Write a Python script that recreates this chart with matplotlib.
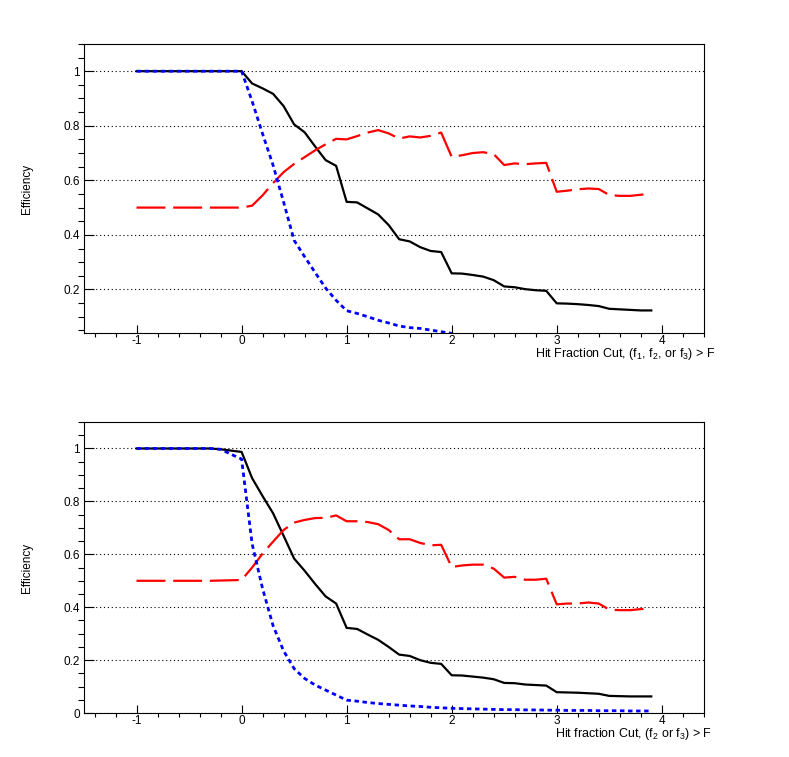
import matplotlib
matplotlib.use('Agg')
import matplotlib.pyplot as plt
from matplotlib.ticker import MultipleLocator, FormatStrFormatter

plt.rcParams['font.family'] = ['Liberation Sans', 'DejaVu Sans']
plt.rcParams['mathtext.fontset'] = 'custom'
plt.rcParams['mathtext.rm'] = 'Liberation Sans'
plt.rcParams['mathtext.default'] = 'regular'

# cut value F
x = [-1.0, -0.9, -0.8, -0.7, -0.6, -0.5, -0.4, -0.3, -0.2, -0.1,
     0.0, 0.1, 0.2, 0.3, 0.4, 0.5, 0.6, 0.7, 0.8, 0.9,
     1.0, 1.1, 1.2, 1.3, 1.4, 1.5, 1.6, 1.7, 1.8, 1.9,
     2.0, 2.1, 2.2, 2.3, 2.4, 2.5, 2.6, 2.7, 2.8, 2.9,
     3.0, 3.1, 3.2, 3.3, 3.4, 3.5, 3.6, 3.7, 3.8, 3.9]

# top panel: (f1, f2, or f3) > F
top_black = [1.0] * 10 + [
    1.0, 0.955, 0.937, 0.917, 0.872, 0.805, 0.776, 0.724, 0.674, 0.653,
    0.521, 0.519, 0.497, 0.475, 0.436, 0.384, 0.376, 0.355, 0.341, 0.337,
    0.259, 0.258, 0.253, 0.247, 0.234, 0.211, 0.208, 0.201, 0.197, 0.195,
    0.149, 0.148, 0.146, 0.143, 0.139, 0.129, 0.127, 0.125, 0.123, 0.123]
top_red = [0.5] * 10 + [
    0.5, 0.507, 0.545, 0.59, 0.63, 0.66, 0.685, 0.71, 0.732, 0.752,
    0.75, 0.762, 0.775, 0.784, 0.772, 0.753, 0.761, 0.757, 0.763, 0.775,
    0.686, 0.692, 0.700, 0.703, 0.696, 0.656, 0.662, 0.659, 0.662, 0.664,
    0.558, 0.562, 0.567, 0.570, 0.568, 0.546, 0.543, 0.543, 0.547, 0.552]
top_blue = [1.0] * 10 + [
    1.0, 0.89, 0.77, 0.655, 0.52, 0.38, 0.32, 0.262, 0.205, 0.16,
    0.122, 0.112, 0.10, 0.087, 0.077, 0.066, 0.06, 0.057, 0.051, 0.045,
    0.039]

# bottom panel: (f2 or f3) > F
bot_black = [1.0] * 8 + [
    0.997, 0.992,
    0.987, 0.888, 0.82, 0.755, 0.67, 0.584, 0.538, 0.488, 0.441, 0.414,
    0.322, 0.318, 0.297, 0.277, 0.25, 0.221, 0.216, 0.2, 0.19, 0.186,
    0.143, 0.142, 0.138, 0.134, 0.128, 0.114, 0.113, 0.108, 0.106, 0.104,
    0.079, 0.078, 0.077, 0.075, 0.073, 0.065, 0.064, 0.063, 0.063, 0.063]
bot_red = [0.5] * 8 + [
    0.501, 0.502,
    0.503, 0.55, 0.603, 0.648, 0.692, 0.72, 0.73, 0.737, 0.738, 0.747,
    0.725, 0.725, 0.722, 0.714, 0.692, 0.657, 0.657, 0.643, 0.634, 0.636,
    0.552, 0.558, 0.561, 0.561, 0.546, 0.512, 0.515, 0.504, 0.504, 0.508,
    0.411, 0.414, 0.414, 0.418, 0.414, 0.391, 0.389, 0.389, 0.393, 0.395]
bot_blue = [1.0] * 8 + [
    0.997, 0.978,
    0.96, 0.64, 0.47, 0.33, 0.235, 0.168, 0.131, 0.106, 0.087, 0.068,
    0.049, 0.045, 0.04, 0.036, 0.033, 0.03, 0.027, 0.025, 0.022, 0.02,
    0.018, 0.017, 0.016, 0.015, 0.014, 0.013, 0.013, 0.012, 0.012, 0.011,
    0.011, 0.010, 0.010, 0.010, 0.009, 0.009, 0.009, 0.008, 0.008, 0.008]

xlabels = ['Hit Fraction Cut, (f$_{1}$, f$_{2}$, or f$_{3}$) > F',
           'Hit fraction Cut, (f$_{2}$ or f$_{3}$) > F']

fig = plt.figure(figsize=(7.89, 7.57), dpi=100)
ax1 = fig.add_axes([0.1065, 0.560, 0.7855, 0.382])
ax2 = fig.add_axes([0.1065, 0.058, 0.7855, 0.3845])


def style(ax, ymin, xlab, lab_x, lab_y):
    ax.set_xlim(-1.5, 4.4)
    ax.set_ylim(ymin, 1.1)
    ax.xaxis.set_major_locator(MultipleLocator(1))
    ax.xaxis.set_minor_locator(MultipleLocator(0.2))
    ax.yaxis.set_major_locator(MultipleLocator(0.2))
    ax.yaxis.set_minor_locator(MultipleLocator(0.05))
    ax.yaxis.set_major_formatter(FormatStrFormatter('%g'))
    ax.xaxis.set_major_formatter(FormatStrFormatter('%g'))
    ax.tick_params(direction='in', labelsize=8.5, width=0.8)
    ax.tick_params(axis='y', which='major', length=7, pad=3)
    ax.tick_params(axis='y', which='minor', length=4, width=0.8)
    ax.tick_params(axis='x', which='major', length=6, pad=1.5)
    ax.tick_params(axis='x', which='minor', length=3, width=0.8)
    ax.grid(axis='y', which='major', color='black', linestyle=(0, (1, 2.5)),
            linewidth=0.8)
    for s in ax.spines.values():
        s.set_linewidth(0.8)
    ax.set_ylabel('Efficiency', fontsize=8.5)
    ax.yaxis.set_label_coords(-0.082, 0.5)
    ax.set_xlabel(xlab, fontsize=9, ha='right', va='baseline')
    ax.xaxis.set_label_coords(lab_x, lab_y)


for ax, blk, red, blu, ymin, lab, lx, ly in [
        (ax1, top_black, top_red, top_blue, 0.04, xlabels[0], 1.019, -0.083),
        (ax2, bot_black, bot_red, bot_blue, 0.0, xlabels[1], 1.013, -0.081)]:
    ax.plot(x, blk, color='black', lw=1.6)
    ax.plot(x, red, color='red', lw=1.6, linestyle=(0, (13, 3.5)))
    ax.plot(x[:len(blu)], blu, color='blue', lw=2.0, linestyle=(0, (1.6, 1.3)))
    style(ax, ymin, lab, lx, ly)

plt.savefig('out.png', dpi=100)
